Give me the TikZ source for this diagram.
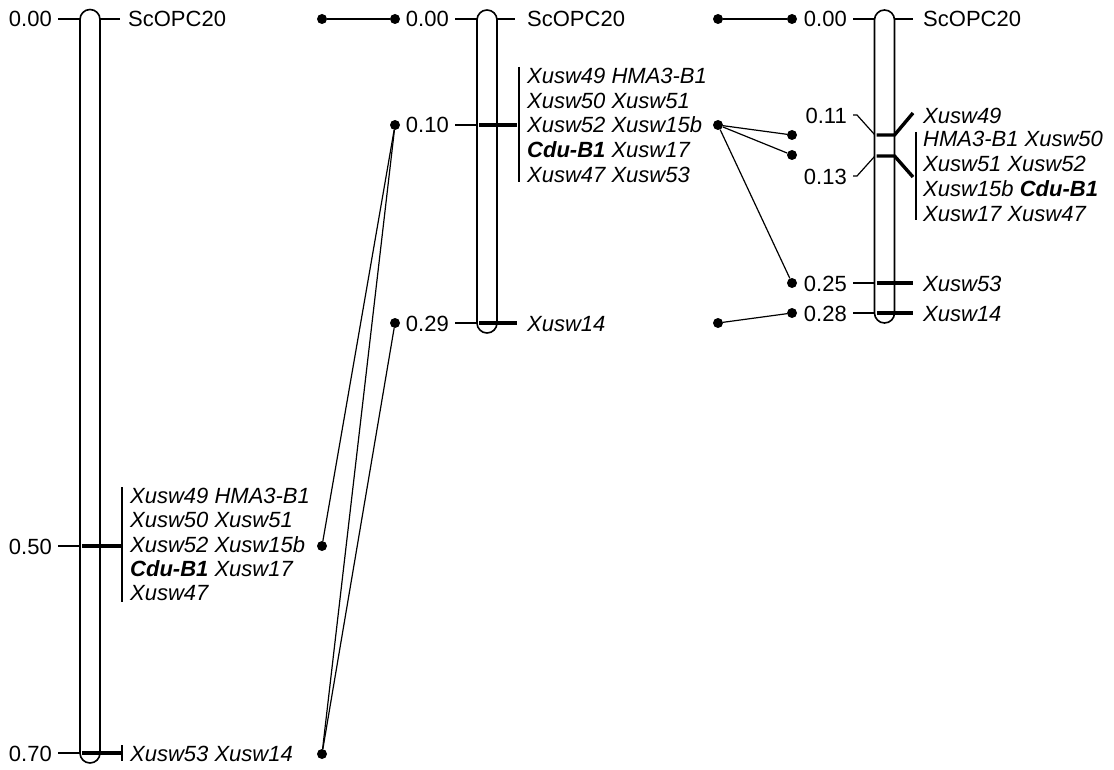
\documentclass[tikz,border=0pt]{standalone}
\usepackage{fontspec}
\setmainfont{Liberation Sans}
\begin{document}
\begin{tikzpicture}[x=1pt,y=-1pt,
  chrom/.style={draw, line width=1.6pt, rounded corners=10pt},
  thinln/.style={line width=1.2pt},
  thickln/.style={line width=3.4pt},
  conn/.style={line width=1.2pt},
  dot/.style={circle, fill=black, inner sep=0pt, minimum size=10pt},
  lbl/.style={font=\fontsize{22}{24}\selectfont, inner sep=0pt, anchor=base west},
  mk/.style={font=\fontsize{22}{24}\selectfont\itshape, inner sep=0pt, anchor=base west},
  num/.style={font=\fontsize{22}{24}\selectfont, inner sep=0pt, anchor=base east}]
\useasboundingbox (0,0) rectangle (1114,770);

% ---------- chromosome 1 ----------
\draw[chrom] (80,9.5) rectangle (100,763);
\draw[thinln] (58,19) -- (80,19) (100,19) -- (120,19);
\node[num] (c1n0) at (52,27) {0.00};
\node[lbl] (c1s) at (128,27) {ScOPC20};
\draw[thinln] (58,546) -- (80,546);
\draw[thickln] (82,546) -- (121,546);
\draw[thinln] (122,487) -- (122,602);
\node[num] (c1n50) at (52,554) {0.50};
\node[mk] (c1a1) at (130,503.7) {Xusw49 HMA3-B1};
\node[mk] (c1a2) at (130,527.9) {Xusw50 Xusw51};
\node[mk] (c1a3) at (130,552.1) {Xusw52 Xusw15b};
\node[mk] (c1a4) at (130,576.3) {\textbf{Cdu-B1} Xusw17};
\node[mk] (c1a5) at (130,600.5) {Xusw47};
\draw[thinln] (58,753) -- (80,753);
\draw[thickln] (82,753) -- (121,753);
\draw[thinln] (122,745) -- (122,761);
\node[num] (c1n70) at (52,761) {0.70};
\node[mk] (c1b1) at (130,761) {Xusw53 Xusw14};

\node[dot] (d1a) at (322,19) {};
\node[dot] (d1b) at (322,546) {};
\node[dot] (d1c) at (322,754) {};

% ---------- chromosome 2 ----------
\draw[chrom] (477,10) rectangle (497,333);
\node[dot] (d2a) at (395,19) {};
\node[dot] (d2b) at (395,125) {};
\node[dot] (d2c) at (395,323) {};
\node[num] (c2n0) at (449,27) {0.00};
\node[num] (c2n10) at (449,133) {0.10};
\node[num] (c2n29) at (449,331) {0.29};
\draw[thinln] (455,19) -- (477,19) (497,19) -- (515,19);
\node[lbl] (c2s) at (527,27) {ScOPC20};
\draw[thinln] (455,125) -- (477,125);
\draw[thickln] (479,125) -- (517,125);
\draw[thinln] (519,67) -- (519,182);
\node[mk] (c2a1) at (527,83.7) {Xusw49 HMA3-B1};
\node[mk] (c2a2) at (527,108.3) {Xusw50 Xusw51};
\node[mk] (c2a3) at (527,132.9) {Xusw52 Xusw15b};
\node[mk] (c2a4) at (527,157.5) {\textbf{Cdu-B1} Xusw17};
\node[mk] (c2a5) at (527,182.1) {Xusw47 Xusw53};
\draw[thinln] (455,323) -- (477,323);
\draw[thickln] (479,323) -- (517,323);
\node[mk] (c2b1) at (527,331) {Xusw14};

\node[dot] (e2a) at (718,19) {};
\node[dot] (e2b) at (718,125) {};
\node[dot] (e2c) at (718,323) {};

% ---------- chromosome 3 ----------
\draw[chrom] (874.5,10) rectangle (894.5,323);
\node[dot] (f3a) at (792,19) {};
\node[dot] (f3b) at (792,135) {};
\node[dot] (f3c) at (792,155) {};
\node[dot] (f3d) at (792,283) {};
\node[dot] (f3e) at (792,313) {};
\node[num] (c3n0) at (847,27) {0.00};
\node[num] (c3n11) at (847,124) {0.11};
\node[num] (c3n13) at (847,185) {0.13};
\node[num] (c3n25) at (847,291) {0.25};
\node[num] (c3n28) at (847,321) {0.28};
\draw[thinln] (853,19) -- (874.5,19) (894.5,19) -- (913,19);
\node[lbl] (c3s) at (923,27) {ScOPC20};
\draw[thinln] (853,115) -- (857,115) -- (874.5,134.5);
\draw[thickln] (876.5,135) -- (894.5,135) -- (913,113);
\draw[thinln] (853,176) -- (857,176) -- (874.5,156.5);
\draw[thickln] (876.5,156) -- (894.5,156) -- (913,177);
\node[mk] (c3a0) at (923,123.2) {Xusw49};
\draw[thinln] (916,132) -- (916,220);
\node[mk] (c3a1) at (923,146.9) {HMA3-B1 Xusw50};
\node[mk] (c3a2) at (923,171.9) {Xusw51 Xusw52};
\node[mk] (c3a3) at (923,196.9) {Xusw15b \textbf{Cdu-B1}};
\node[mk] (c3a4) at (923,221.9) {Xusw17 Xusw47};
\draw[thinln] (853,283) -- (874.5,283);
\draw[thickln] (876.5,283) -- (913,283);
\node[mk] (c3b1) at (923,291) {Xusw53};
\draw[thinln] (853,313) -- (874.5,313);
\draw[thickln] (876.5,313) -- (913,313);
\node[mk] (c3c1) at (923,321) {Xusw14};

% ---------- connectors ----------
\draw[conn] (d1a) -- (d2a);
\draw[conn] (d1b) -- (d2b);
\draw[conn] (d1c) -- (d2b);
\draw[conn] (d1c) -- (d2c);
\draw[conn] (e2a) -- (f3a);
\draw[conn] (e2b) -- (f3b);
\draw[conn] (e2b) -- (f3c);
\draw[conn] (e2b) -- (f3d);
\draw[conn] (e2c) -- (f3e);
\end{tikzpicture}
\end{document}
